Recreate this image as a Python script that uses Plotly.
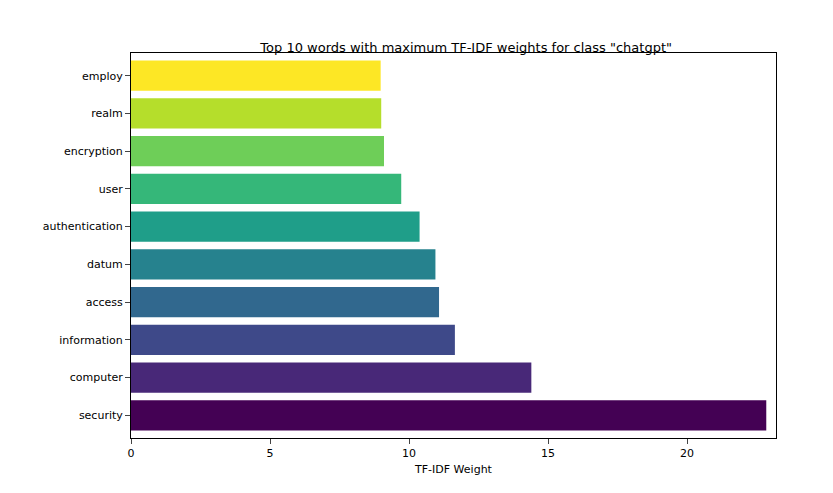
import plotly.graph_objects as go

words = ["security", "computer", "information", "access", "datum",
         "authentication", "user", "encryption", "realm", "employ"]
weights = [22.85, 14.4, 11.65, 11.08, 10.95, 10.38, 9.72, 9.1, 9.0, 8.98]
colors = ["#440154", "#482878", "#3e4989", "#31688e", "#26828e",
          "#1f9e89", "#35b779", "#6ece58", "#b5de2b", "#fde725"]

fig = go.Figure(go.Bar(x=weights, y=words, orientation="h",
                       marker=dict(color=colors, line_width=0), width=0.8))

fig.update_layout(
    width=833, height=493,
    paper_bgcolor="white", plot_bgcolor="white",
    margin=dict(l=123, r=65, t=45, b=63),
    font=dict(family="DejaVu Sans", size=11, color="black"),
    title=dict(text='Top 10 words with maximum TF-IDF weights for class "chatgpt"',
               x=0.55, xanchor="center", y=0.93, font=dict(size=13)),
    xaxis=dict(title=dict(text="TF-IDF Weight", standoff=6, font=dict(size=11)),
               range=[0, 23.2],
               tickvals=[0, 5, 10, 15, 20], showgrid=False, zeroline=False,
               showline=True, linecolor="black", mirror=True, ticks="outside"),
    yaxis=dict(showgrid=False, showline=True, linecolor="black", mirror=True,
               ticks="outside", range=[-0.6, 9.6]),
    bargap=0.2,
)

fig.write_html("out.html")
